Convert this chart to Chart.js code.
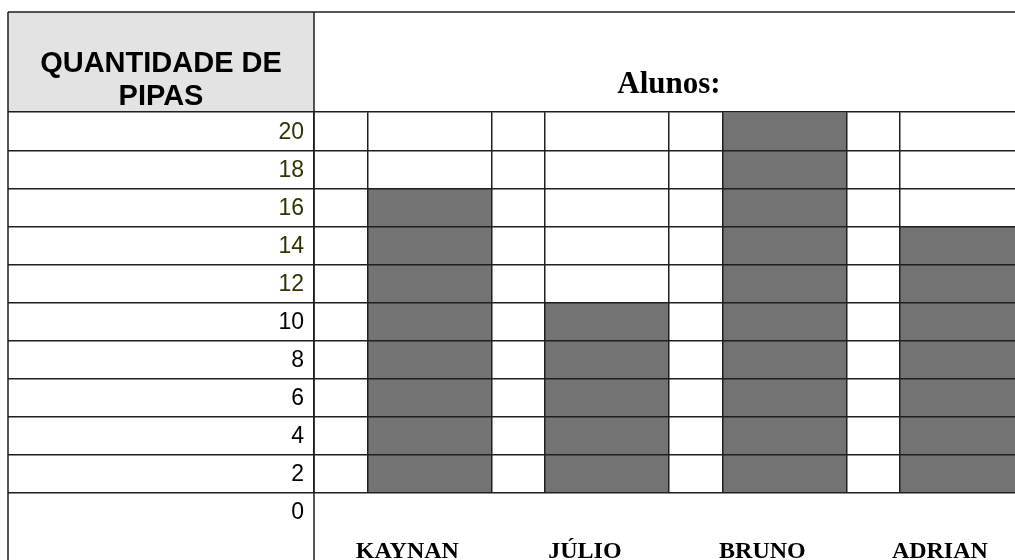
<!DOCTYPE html>
<html>
<head>
<meta charset="utf-8">
<script src="https://cdn.jsdelivr.net/npm/chart.js@4/dist/chart.umd.min.js"></script>
<style>
body{margin:0;overflow:hidden;background:#fff}
</style>
</head>
<body>
<canvas id="kites" width="1040" height="560"></canvas>
<script>

const students=['KAYNAN','JÚLIO','BRUNO','ADRIAN']
const kites=[16,10,20,14]
const headerLines=['QUANTIDADE DE','PIPAS']
const chartTitle='Alunos:'

const lineColor='#1f1f1f'

// cell borders either side of each bar
const cellEdges=[-0.65]
students.forEach((s,i)=>{cellEdges.push(i-0.35,i+0.35)})

const frame={
id:'frame',
beforeDraw(chart){
const {ctx,chartArea}=chart
ctx.save()
ctx.fillStyle='#e3e3e3'
ctx.fillRect(8,12,chartArea.left-8,chartArea.top-12)
ctx.restore()
},
afterDraw(chart){
const {ctx,chartArea,width,height}=chart
ctx.save()
ctx.strokeStyle=lineColor
ctx.lineWidth=1.5
ctx.beginPath()
ctx.moveTo(8,12);ctx.lineTo(8,height)
ctx.moveTo(chartArea.left,12);ctx.lineTo(chartArea.left,height)
ctx.moveTo(8,12);ctx.lineTo(width,12)
ctx.stroke()
ctx.fillStyle='#000'
ctx.font='bold 29px "Liberation Sans", Arial, sans-serif'
ctx.textAlign='center'
ctx.textBaseline='alphabetic'
const cx=(8+chartArea.left)/2
ctx.fillText(headerLines[0],cx,72)
ctx.fillText(headerLines[1],cx,105)
ctx.restore()
}
}

new Chart(
document.getElementById('kites'),
{
type:'bar',
data:{
datasets:[{
label:'Pipas',
data:kites.map((v,i)=>({x:i,y:v})),
backgroundColor:'#737373',
borderWidth:0,
barPercentage:0.7,
categoryPercentage:1,
xAxisID:'x',
yAxisID:'y'
}]
},
options:{
responsive:false,
animation:false,
events:[],
layout:{padding:{left:8,right:16,top:0,bottom:0}},
plugins:{
legend:{display:false},
tooltip:{enabled:false},
title:{
display:true,
text:chartTitle,
fullSize:false,
color:'#000',
font:{family:'"Liberation Serif", "Times New Roman", serif',size:31,weight:'bold',lineHeight:1.2},
padding:{top:66,bottom:9}
}
},
scales:{
x:{
type:'linear',
position:'bottom',
min:-0.65,
max:3.35,
offset:false,
afterBuildTicks:scale=>{scale.ticks=students.map((s,i)=>({value:i}))},
afterFit:scale=>{scale.height=67;scale.paddingLeft=0;scale.paddingRight=0},
grid:{display:false,offset:false},
border:{display:false},
ticks:{
autoSkip:false,
maxRotation:0,
padding:36,
labelOffset:-22,
color:'#000',
font:{family:'"Liberation Serif", "Times New Roman", serif',size:24,weight:'bold'},
callback:v=>students[v]??''
}
},
cells:{
type:'linear',
position:'bottom',
min:-0.65,
max:3.35,
offset:false,
afterBuildTicks:scale=>{scale.ticks=cellEdges.map(v=>({value:v}))},
grid:{color:lineColor,lineWidth:1.5,drawTicks:false,offset:false,z:1},
border:{display:false},
ticks:{display:false}
},
y:{
min:0,
max:20,
afterFit:scale=>{scale.width=306;scale.paddingTop=0;scale.paddingBottom=0},
grid:{color:lineColor,lineWidth:1.5,tickLength:306,z:1},
border:{display:false},
ticks:{
stepSize:2,
padding:-296,
labelOffset:20,
color:c=>c.tick.value>=12?'#333300':'#000',
font:{family:'"Liberation Sans", Arial, sans-serif',size:23}
}
}
}
},
plugins:[frame]
})

</script>
</body>
</html>
